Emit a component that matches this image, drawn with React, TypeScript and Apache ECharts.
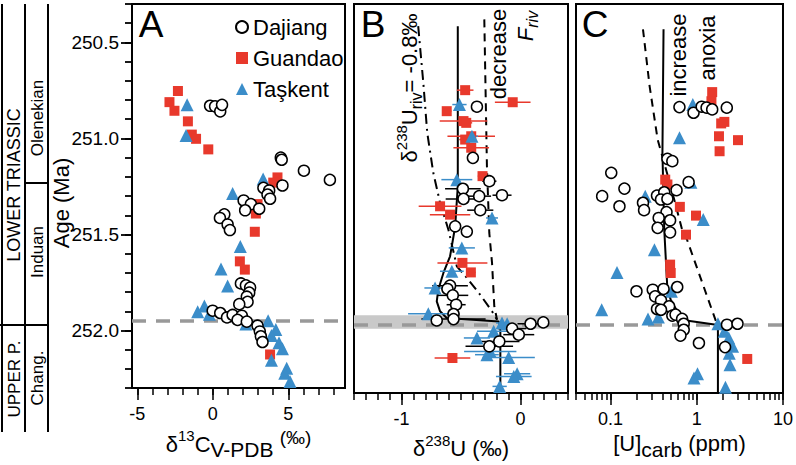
import React, { useEffect, useRef } from 'react';
import * as echarts from 'echarts';

const FONT = '"Liberation Sans", Arial, Helvetica, sans-serif';
const RED = '#e8392c';
const BLUE = '#3b8dc9';

// ---------- axes ----------
const AGE_MIN = 250.3;
const AGE_MAX = 252.3;
const AGE_STEP = 0.1;
const AGE_LABELS = [250.5, 251.0, 251.5, 252.0];
const PTB_AGE = 251.95;
const B_BAND = [251.9, 251.97];

const A_X_RANGE = [-5.35, 8.75];
const A_X_LABELS = [-5, 0, 5];
const A_X_TICKS = [-5, -4, -3, -2, -1, 0, 1, 2, 3, 4, 5, 6, 7, 8];

const B_X_RANGE = [-1.4, 0.4];
const B_X_LABELS = [-1, 0];
const B_X_TICKS = [-1.4, -1.3, -1.2, -1.1, -1.0, -0.9, -0.8, -0.7, -0.6, -0.5, -0.4, -0.3, -0.2, -0.1, 0, 0.1, 0.2, 0.3, 0.4];

const C_X_RANGE = [0.0398, 10];
const C_X_LABELS = [0.1, 1, 10];
const C_X_TICKS = [0.04, 0.05, 0.06, 0.07, 0.08, 0.09, 0.1, 0.2, 0.3, 0.4, 0.5, 0.6, 0.7, 0.8, 0.9, 1, 2, 3, 4, 5, 6, 7, 8, 9, 10];

// ---------- Panel A: [d13C, age] ----------
const A_DAJIANG = [
  [-0.18, 250.83], [0.15, 250.833], [0.49, 250.859], [0.61, 250.825],
  [4.5, 251.1], [4.56, 251.111], [6.03, 251.168], [7.75, 251.216], [4.61, 251.245], [3.35, 251.257],
  [3.73, 251.271], [3.62, 251.292], [3.79, 251.314], [2.04, 251.323], [2.52, 251.342], [2.14, 251.374],
  [3.07, 251.366], [0.76, 251.395], [0.47, 251.414], [0.98, 251.448], [1.13, 251.477],
  [1.86, 251.755], [2.19, 251.765], [2.47, 251.777], [2.41, 251.803], [2.25, 251.824], [2.3, 251.851],
  [1.75, 251.863], [-0.01, 251.897], [0.49, 251.909], [0.94, 251.932], [1.31, 251.919], [1.92, 251.923],
  [1.64, 251.945], [2.25, 251.954], [2.96, 251.975], [3.11, 252.005], [3.18, 252.03], [3.29, 252.06],
];
const A_GUANDAO = [
  [-2.31, 250.753], [-2.87, 250.811], [-2.54, 250.856], [-1.65, 250.911], [-1.39, 250.98], [-1.11, 251.002],
  [-0.3, 251.057], [4.28, 251.203], [4.0, 251.23], [2.96, 251.342], [2.85, 251.391], [2.78, 251.486],
  [1.79, 251.64], [2.12, 251.683], [3.79, 252.125],
];
const A_TASKENT = [
  [-1.7, 250.825], [-1.77, 250.985], [3.33, 251.211], [1.31, 251.287], [1.82, 251.563], [0.54, 251.68],
  [0.98, 251.769], [-0.56, 251.872], [-1.0, 251.902], [-0.23, 251.915], [3.66, 251.949], [2.19, 251.966],
  [4.17, 251.995], [3.88, 252.026], [4.38, 252.064], [4.61, 252.095], [3.88, 252.155], [4.89, 252.197],
  [4.76, 252.223], [5.11, 252.266],
];

// ---------- Panel B: [d238U, age, error] ----------
const B_DAJIANG = [
  [-0.366, 250.828, 0.04], [-0.4, 251.091, 0.03], [-0.262, 251.211, 0.06], [-0.484, 251.25, 0.15],
  [-0.155, 251.283, 0.08], [-0.347, 251.288, 0.1], [-0.479, 251.302, 0.15], [-0.338, 251.36, 0.11],
  [-0.549, 251.443, 0.03], [-0.451, 251.47, 0.03], [-0.592, 251.748, 0.15], [-0.614, 251.765, 0.05],
  [-0.569, 251.798, 0.13], [-0.541, 251.846, 0.08], [-0.563, 251.894, 0.05], [-0.563, 251.92, 0.27],
  [-0.704, 251.927, 0.03], [0.085, 251.944, 0.11], [0.192, 251.937, 0.03], [-0.07, 251.969, 0.12],
  [-0.014, 252.0, 0.13], [-0.178, 252.035, 0.17], [-0.262, 252.06, 0.2],
];
const B_GUANDAO = [
  [-0.465, 250.743, 0.07], [-0.62, 250.851, 0.04], [-0.065, 250.805, 0.15], [-0.479, 250.902, 0.2],
  [-0.456, 250.911, 0.05], [-0.414, 250.98, 0.2], [-0.465, 250.997, 0.05], [-0.414, 251.039, 0.15],
  [-0.319, 251.185, 0.04], [-0.676, 251.34, 0.18], [-0.592, 251.383, 0.17], [-0.488, 251.631, 0.21],
  [-0.417, 251.68, 0.04], [-0.572, 252.12, 0.15],
];
const B_TASKENT = [
  [-0.513, 250.817, 0.06], [-0.408, 250.98, 0.05], [-0.535, 251.203, 0.13], [-0.239, 251.4, 0.05],
  [-0.493, 251.554, 0.11], [-0.577, 251.674, 0.1], [-0.718, 251.76, 0.09], [-0.775, 251.892, 0.17],
  [-0.155, 251.94, 0.05], [-0.112, 251.944, 0.06], [-0.225, 251.983, 0.14], [-0.366, 252.017, 0.11],
  [-0.254, 252.086, 0.22], [-0.282, 252.103, 0.1], [-0.099, 252.117, 0.22], [-0.028, 252.201, 0.11],
  [-0.056, 252.215, 0.15], [-0.175, 252.266, 0.06],
];
const B_MODEL = [
  [-0.527, 250.414], [-0.527, 251.237], [-0.549, 251.443], [-0.563, 251.494], [-0.592, 251.597],
  [-0.648, 251.683], [-0.691, 251.769], [-0.704, 251.829], [-0.676, 251.88], [-0.62, 251.914],
  [-0.183, 251.932], [-0.169, 251.975], [-0.169, 252.3],
];
const B_RIV = [
  [-0.86, 250.414], [-0.817, 250.705], [-0.784, 250.962], [-0.733, 251.168], [-0.676, 251.322],
  [-0.606, 251.46], [-0.535, 251.649], [-0.451, 251.708], [-0.338, 251.795], [-0.239, 251.88], [-0.197, 251.923],
];
const B_FRIV = [
  [-0.304, 250.379], [-0.282, 251.132], [-0.262, 251.477], [-0.239, 251.631], [-0.22, 251.854], [-0.197, 251.923],
];

// ---------- Panel C: [U ppm, age] ----------
const C_DAJIANG = [
  [0.63, 250.83], [0.918, 250.859], [1.14, 250.828], [1.3, 250.833], [1.51, 250.842], [2.23, 250.833],
  [0.457, 251.096], [0.521, 251.108], [0.102, 251.168], [0.145, 251.249], [0.08, 251.288], [0.127, 251.34],
  [0.238, 251.322], [0.245, 251.36], [0.346, 251.285], [0.42, 251.268], [0.385, 251.305], [0.457, 251.302],
  [0.583, 251.257], [0.805, 251.216], [0.446, 251.37], [0.362, 251.4], [0.491, 251.412], [0.352, 251.451],
  [0.491, 251.474], [0.2, 251.777], [0.309, 251.769], [0.412, 251.765], [0.594, 251.755], [0.329, 251.803],
  [0.385, 251.824], [0.346, 251.868], [0.478, 251.854], [0.385, 251.872], [0.521, 251.902], [0.568, 251.897],
  [0.676, 251.919], [0.706, 251.944], [0.706, 251.975], [0.647, 252.005], [2.24, 251.949], [2.97, 251.944],
  [1.06, 252.043], [2.13, 252.064],
];
const C_GUANDAO = [
  [1.51, 250.753], [1.48, 250.8], [1.92, 250.914], [2.09, 250.906], [1.81, 250.98], [3.01, 251.0],
  [1.84, 251.057], [0.431, 251.203], [0.457, 251.228], [0.637, 251.343], [0.98, 251.388], [0.75, 251.486],
  [0.491, 251.64], [0.499, 251.683], [3.85, 252.125],
];
const C_TASKENT = [
  [0.9, 250.817], [0.631, 250.988], [0.855, 251.216], [0.253, 251.288], [1.19, 251.408], [0.323, 251.563],
  [0.119, 251.68], [0.508, 251.777], [0.079, 251.872], [0.272, 251.919], [0.359, 251.909], [1.76, 251.944],
  [2.09, 251.983], [2.35, 252.017], [2.6, 252.06], [2.38, 252.095], [2.43, 252.155], [1.02, 252.201],
  [0.93, 252.223], [2.15, 252.27],
];
const C_MODEL = [
  [0.412, 250.43], [0.4, 251.065], [0.42, 251.46], [0.457, 251.769], [0.499, 251.82], [0.594, 251.88],
  [0.757, 251.927], [1.68, 251.949], [1.76, 251.975], [1.76, 252.3],
];
const C_DASH = [
  [0.238, 250.43], [0.284, 250.722], [0.352, 250.997], [0.499, 251.237], [0.676, 251.46], [0.77, 251.511],
  [1.545, 251.889], [1.71, 251.944],
];

const LOG = (rows: number[][]) => rows.map((r) => [Math.log10(r[0]), r[1]]);

const GRID_TOP = 4;
const GRID_H = 389;

export default function App() {
  const ref = useRef<HTMLDivElement>(null);
  useEffect(() => {
    if (!ref.current) return;
    const chart = echarts.init(ref.current, undefined, { renderer: 'svg' });

    const tickLine = { color: '#000', width: 1.5 };
    const labelStyle = { fontSize: 18, fontFamily: FONT, color: '#000' };

    const xPair = (grid: number, range: number[], labels: number[], ticks: number[], fmt: (v: number) => string, name: string, rich: any) => [
      {
        type: 'value', gridIndex: grid, position: 'bottom', min: range[0], max: range[1],
        axisLine: { show: false, onZero: false }, splitLine: { show: false },
        axisTick: { show: true, customValues: labels, length: 12, lineStyle: tickLine },
        axisLabel: { show: true, customValues: labels, margin: 17, formatter: fmt, ...labelStyle },
        name, nameLocation: 'middle', nameGap: 27,
        nameTextStyle: { fontSize: 22, fontFamily: FONT, color: '#000', rich },
      },
      {
        type: 'value', gridIndex: grid, position: 'bottom', min: range[0], max: range[1],
        axisLine: { show: false, onZero: false }, splitLine: { show: false },
        axisTick: { show: true, customValues: ticks, length: 7, lineStyle: tickLine },
        axisLabel: { show: false },
      },
    ];

    const richBase = {
      m: { fontSize: 22, fontFamily: FONT, lineHeight: 32, verticalAlign: 'middle', color: '#000' },
      s: { fontSize: 15, fontFamily: FONT, lineHeight: 17, verticalAlign: 'top', color: '#000' },
      b: { fontSize: 21, fontFamily: FONT, lineHeight: 22, verticalAlign: 'bottom', color: '#000' },
      u: { fontSize: 19, fontFamily: FONT, lineHeight: 28, verticalAlign: 'top', color: '#000' },
    };

    const isMajorAge = (v: number) => AGE_LABELS.some((l) => Math.abs(l - v) < 1e-6);

    const yHidden = (grid: number) => ({
      type: 'value', gridIndex: grid, inverse: true, min: AGE_MIN, max: AGE_MAX, show: false,
    });

    const circleStyle = { color: '#fff', borderColor: '#000', borderWidth: 1.5, opacity: 1 };
    const sc = (name: string, data: number[][], xi: number, yi: number, kind: string, extra: any = {}) => ({
      type: 'scatter', name, data, xAxisIndex: xi, yAxisIndex: yi, z: 10,
      symbol: kind === 'c' ? 'circle' : kind === 's' ? 'rect' : 'triangle',
      symbolSize: kind === 'c' ? 11 : kind === 's' ? 10 : 13,
      itemStyle: kind === 'c' ? circleStyle : { color: kind === 's' ? RED : BLUE, opacity: 1 },
      emphasis: { disabled: true },
      ...extra,
    });

    const ptbLine = {
      silent: true, symbol: ['none', 'none'], label: { show: false },
      lineStyle: { color: '#999', width: 3.5, type: [14, 10] },
      data: [{ yAxis: PTB_AGE }],
    };

    const err = (data: number[][], color: string) => ({
      type: 'custom', name: 'err-' + color, xAxisIndex: 2, yAxisIndex: 2, z: 8, data,
      encode: { x: 0, y: 1 },
      renderItem: (_p: any, api: any) => {
        const x = api.value(0), y = api.value(1), e = api.value(2);
        const a = api.coord([x - e, y]);
        const b = api.coord([x + e, y]);
        return { type: 'line', shape: { x1: a[0], y1: a[1], x2: b[0], y2: b[1] }, style: { stroke: color, lineWidth: 1.5 } };
      },
    });

    const ln = (data: number[][], xi: number, yi: number, type: any, extra: any = {}) => ({
      type: 'line', data, xAxisIndex: xi, yAxisIndex: yi, symbol: 'none', silent: true, z: 6,
      lineStyle: { color: '#000', width: 2, type }, ...extra,
    });

    const txt = (text: string, x: number, y: number, size: number, rot = 0, extra: any = {}) => ({
      type: 'text', x, y, rotation: rot, silent: true,
      style: { text, fontSize: size, fontFamily: FONT, fill: '#000', align: 'center', verticalAlign: 'middle', ...extra },
    });
    const seg = (x1: number, y1: number, x2: number, y2: number) => ({
      type: 'line', silent: true, shape: { x1, y1, x2, y2 }, style: { stroke: '#000', lineWidth: 2 },
    });

    const R90 = Math.PI / 2;
    const richRot = {
      m: { fontSize: 22, fontFamily: FONT, lineHeight: 30, verticalAlign: 'middle', fill: '#000' },
      s: { fontSize: 15, fontFamily: FONT, lineHeight: 16, verticalAlign: 'top', fill: '#000' },
      b: { fontSize: 16, fontFamily: FONT, lineHeight: 18, verticalAlign: 'bottom', fill: '#000' },
      mi: { fontSize: 22, fontFamily: FONT, fontStyle: 'italic', lineHeight: 30, verticalAlign: 'middle', fill: '#000' },
      bi: { fontSize: 16, fontFamily: FONT, fontStyle: 'italic', lineHeight: 18, verticalAlign: 'bottom', fill: '#000' },
    };

    const option: any = {
      animation: false,
      backgroundColor: '#fff',
      grid: [
        { left: 132, top: GRID_TOP, width: 213, height: GRID_H, show: true, borderColor: '#000', borderWidth: 2, backgroundColor: 'transparent' },
        { left: 354, top: GRID_TOP, width: 214, height: GRID_H, show: true, borderColor: '#000', borderWidth: 2, backgroundColor: 'transparent' },
        { left: 576, top: GRID_TOP, width: 213, height: GRID_H, show: true, borderColor: '#000', borderWidth: 2, backgroundColor: 'transparent' },
      ],
      xAxis: [
        ...xPair(0, A_X_RANGE, A_X_LABELS, A_X_TICKS, (v) => String(v),
          '{m|δ}{s|13}{m|C}{b|V-PDB}{m| }{u|(‰)}', richBase),
        ...xPair(1, B_X_RANGE, B_X_LABELS, B_X_TICKS, (v) => String(Math.round(v)),
          '{m|δ}{s|238}{m|U (‰)}', richBase),
        ...xPair(2, [Math.log10(C_X_RANGE[0]), Math.log10(C_X_RANGE[1])], C_X_LABELS.map(Math.log10), C_X_TICKS.map(Math.log10),
          (v) => String(Number(Math.pow(10, v).toPrecision(1))),
          '{m|[U]}{b|carb}{m| (ppm)}', richBase),
      ],
      yAxis: [
        // panel A age axis: ticks every 0.1 Ma, labels every 0.5 Ma
        {
          type: 'value', gridIndex: 0, inverse: true, min: AGE_MIN, max: AGE_MAX, interval: AGE_STEP,
          position: 'left', axisLine: { show: true, onZero: false, lineStyle: { color: '#000', width: 2 } },
          splitLine: { show: false },
          axisTick: { show: true, length: 7, lineStyle: { color: '#000', width: 1.8 } },
          axisLabel: {
            show: true, margin: 13, ...labelStyle, fontSize: 19,
            formatter: (v: number) => (isMajorAge(v) ? v.toFixed(1) : ''),
          },
        },
        // longer ticks at the labelled ages
        {
          type: 'value', gridIndex: 0, inverse: true, min: AGE_MIN, max: AGE_MAX, interval: 0.5,
          position: 'left', axisLine: { show: false, onZero: false }, splitLine: { show: false },
          axisTick: { show: true, length: 11, lineStyle: { color: '#000', width: 1.8 }, customValues: AGE_LABELS },
          axisLabel: { show: false },
        },
        yHidden(1),
        yHidden(2),
      ],
      legend: {
        orient: 'vertical', left: 230, top: 11, itemGap: 9, itemWidth: 12, itemHeight: 12,
        selectedMode: false,
        textStyle: { fontSize: 22, fontFamily: FONT, color: '#000' },
        data: [{ name: 'Dajiang', icon: 'circle' }, { name: 'Guandao', icon: 'rect' }, { name: 'Taşkent', icon: 'triangle' }],
      },
      series: [
        // Panel A
        sc('Guandao', A_GUANDAO, 0, 0, 's', { markLine: ptbLine }),
        sc('Taşkent', A_TASKENT, 0, 0, 't'),
        sc('Dajiang', A_DAJIANG, 0, 0, 'c'),
        // Panel B
        ln(B_MODEL, 2, 2, 'solid', {
          markArea: { silent: true, itemStyle: { color: '#c9c9c9' }, data: [[{ yAxis: B_BAND[0] }, { yAxis: B_BAND[1] }]] },
          markLine: ptbLine,
        }),
        ln(B_RIV, 2, 2, [10, 5, 2, 5]),
        ln(B_FRIV, 2, 2, [8, 6]),
        err(B_GUANDAO, RED),
        err(B_TASKENT, BLUE),
        err(B_DAJIANG, '#000'),
        sc('Guandao', B_GUANDAO, 2, 2, 's'),
        sc('Taşkent', B_TASKENT, 2, 2, 't'),
        sc('Dajiang', B_DAJIANG, 2, 2, 'c'),
        // Panel C
        ln(LOG(C_MODEL), 4, 3, 'solid', { markLine: ptbLine }),
        ln(LOG(C_DASH), 4, 3, [8, 6]),
        sc('Guandao', LOG(C_GUANDAO), 4, 3, 's'),
        sc('Taşkent', LOG(C_TASKENT), 4, 3, 't'),
        sc('Dajiang', LOG(C_DAJIANG), 4, 3, 'c'),
      ],
      graphic: [
        // stratigraphic columns
        seg(2, 4, 2, 432), seg(25, 4, 25, 432), seg(48, 4, 48, 432),
        seg(0, 325, 48, 325), seg(25, 183, 48, 183),
        txt('LOWER TRIASSIC', 14, 185, 18, R90),
        txt('UPPER P.', 14, 379, 17, R90),
        txt('Olenekian', 37, 118, 17, R90),
        txt('Induan', 37, 252, 17, R90),
        txt('Chang.', 37, 378, 17, R90),
        txt('Age (Ma)', 61, 203, 22, R90),
        // panel letters
        txt('A', 151, 24, 37),
        txt('B', 373, 24, 37),
        txt('C', 595, 24, 37),
        // annotations
        txt('{m|δ}{s|238}{m|U}{b|riv}{m|= -0.8‰}', 409, 88, 22, R90, { rich: richRot }),
        txt('decrease', 498, 54, 22, R90),
        txt('{mi|F}{bi|riv}', 525, 26, 22, R90, { rich: richRot }),
        txt('increase', 678, 55, 22, R90),
        txt('anoxia', 707, 48, 22, R90),
      ],
    };
    chart.setOption(option);
    return () => chart.dispose();
  }, []);
  return <div ref={ref} style={{ position: 'fixed', left: 0, top: 0, width: 796, height: 465, background: '#fff' }} />;
}
